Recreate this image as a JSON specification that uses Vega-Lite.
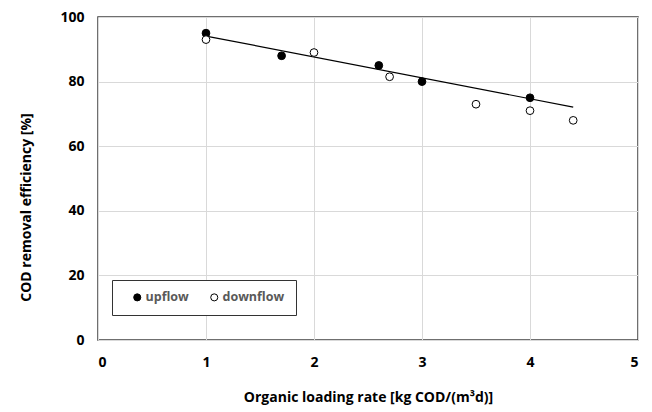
{
  "$schema": "https://vega.github.io/schema/vega-lite/v6.json",
  "width": 540,
  "height": 323,
  "autosize": "none",
  "padding": {"left": 98, "top": 17, "right": 14, "bottom": 72},
  "background": "white",
  "config": {
    "font": "Open Sans",
    "view": {"stroke": "#404040", "strokeWidth": 1.5},
    "axis": {
      "domain": false,
      "ticks": false,
      "gridColor": "#d9d9d9",
      "gridWidth": 1,
      "labelFont": "Open Sans",
      "labelFontWeight": "bold",
      "labelFontSize": 14,
      "labelColor": "black",
      "titleFont": "Open Sans",
      "titleFontWeight": "bold",
      "titleFontSize": 14,
      "titleColor": "black"
    }
  },
  "layer": [
    {
      "data": {"values": [{"x": 1, "y": 94.1}, {"x": 4.4, "y": 72.1}]},
      "mark": {"type": "line", "color": "black", "strokeWidth": 1.2},
      "encoding": {
        "x": {"field": "x", "type": "quantitative"},
        "y": {"field": "y", "type": "quantitative"}
      }
    },
    {
      "data": {
        "values": [
          {"x": 1, "y": 95, "flow": "upflow"},
          {"x": 1.7, "y": 88, "flow": "upflow"},
          {"x": 2.6, "y": 85, "flow": "upflow"},
          {"x": 3, "y": 80, "flow": "upflow"},
          {"x": 4, "y": 75, "flow": "upflow"},
          {"x": 1, "y": 93, "flow": "downflow"},
          {"x": 2, "y": 89, "flow": "downflow"},
          {"x": 2.7, "y": 81.5, "flow": "downflow"},
          {"x": 3.5, "y": 73, "flow": "downflow"},
          {"x": 4, "y": 71, "flow": "downflow"},
          {"x": 4.4, "y": 68, "flow": "downflow"}
        ]
      },
      "mark": {"type": "point", "shape": "circle", "filled": true, "size": 60, "stroke": "black", "strokeWidth": 1, "opacity": 1},
      "encoding": {
        "x": {
          "field": "x", "type": "quantitative",
          "scale": {"domain": [0, 5], "nice": false},
          "axis": {"values": [0, 1, 2, 3, 4, 5], "format": "d", "labelPadding": 15, "titlePadding": 21, "title": "Organic loading rate [kg COD/(m³d)]"}
        },
        "y": {
          "field": "y", "type": "quantitative",
          "scale": {"domain": [0, 100], "nice": false},
          "axis": {"values": [0, 20, 40, 60, 80, 100], "labelPadding": 14, "titlePadding": 26, "titleY": 190, "title": "COD removal efficiency [%]"}
        },
        "fill": {
          "field": "flow", "type": "nominal",
          "scale": {"domain": ["upflow", "downflow"], "range": ["black", "white"]},
          "legend": {
            "title": null,
            "orient": "none",
            "legendX": 14,
            "legendY": 263,
            "direction": "horizontal",
            "strokeColor": "#333333",
            "fillColor": "white",
            "padding": 11,
            "symbolType": "circle",
            "symbolSize": 50,
            "symbolOffset": 8,
            "symbolStrokeColor": "black",
            "symbolStrokeWidth": 1,
            "labelFont": "Open Sans",
            "labelFontWeight": "bold",
            "labelFontSize": 12.5,
            "labelColor": "#595959",
            "labelOffset": 2,
            "columnPadding": 11
          }
        }
      }
    }
  ]
}
